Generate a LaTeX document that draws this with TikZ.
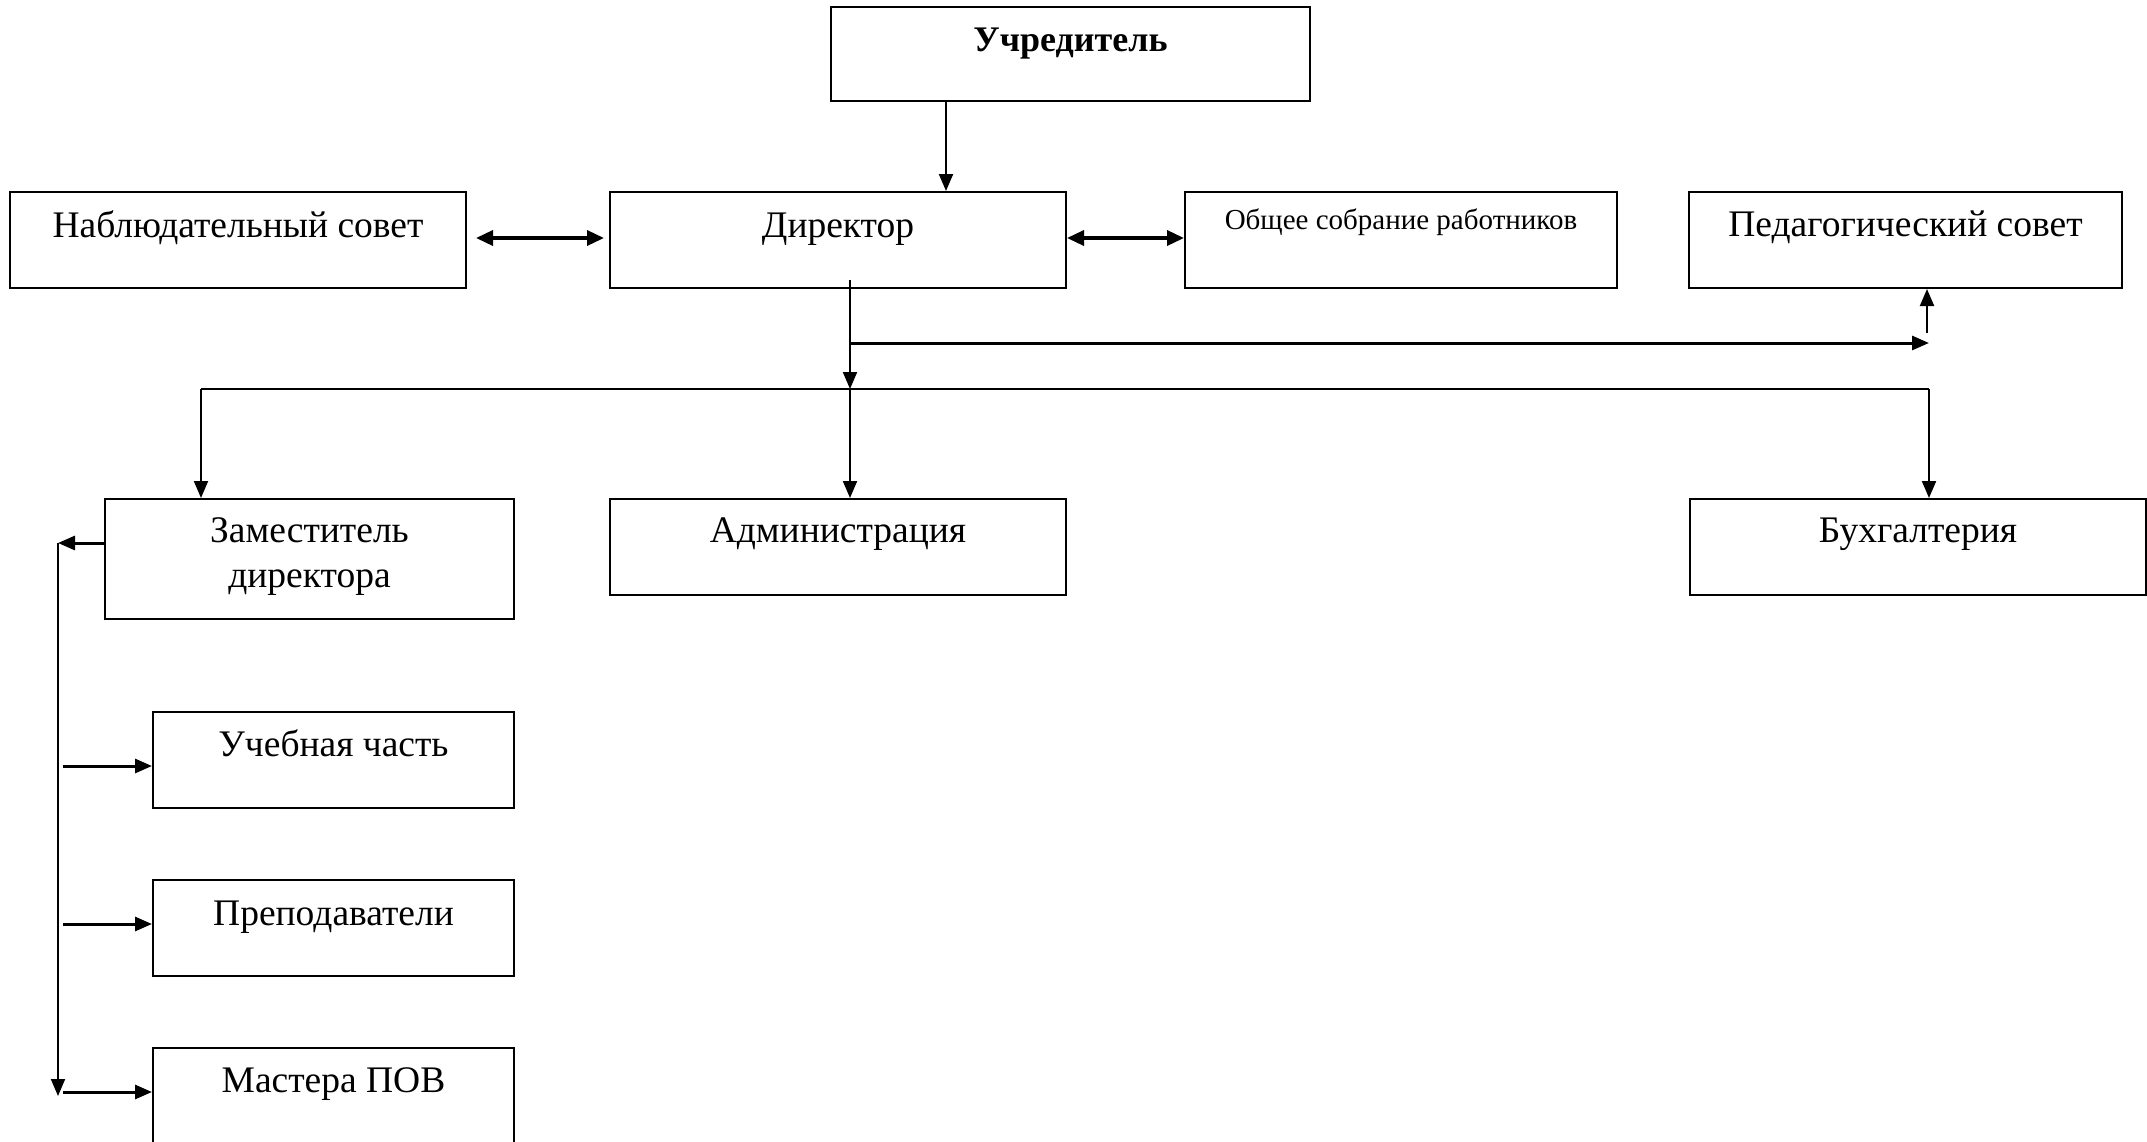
\documentclass[tikz,border=0pt]{standalone}
\usepackage{fontspec}
\setmainfont{Liberation Serif}
\usetikzlibrary{arrows.meta,calc}
\begin{document}
\begin{tikzpicture}[x=1pt,y=-1pt,
 box/.style={draw,line width=2pt,inner sep=0pt,minimum height=96pt},
 lbl/.style={anchor=base,inner sep=0pt,font=\fontsize{37.5}{44}\selectfont},
 ln/.style={line width=2pt},
 arr/.style={line width=2pt,-{Triangle[length=17pt,width=14pt]}},
 thk/.style={line width=3pt,-{Triangle[length=17pt,width=14pt]}},
 dbl/.style={line width=3.5pt,{Triangle[length=17pt,width=15pt]}-{Triangle[length=17pt,width=15pt]}}]
\useasboundingbox[fill=white] (0,0) rectangle (2147,1141);
% boxes
\node[box,minimum width=479pt,minimum height=94pt] (uch) at (1070.5,54) {};
\node[box,minimum width=456pt] (nab) at (238,240) {};
\node[box,minimum width=456pt] (dir) at (838,240) {};
\node[box,minimum width=432pt] (obsh) at (1401,240) {};
\node[box,minimum width=433pt] (ped) at (1905.5,240) {};
\node[box,minimum width=409pt,minimum height=120pt] (zam) at (309.5,559) {};
\node[box,minimum width=456pt] (adm) at (838,547) {};
\node[box,minimum width=456pt] (bux) at (1918,547) {};
\node[box,minimum width=361pt] (ucheb) at (333.5,760) {};
\node[box,minimum width=361pt] (prep) at (333.5,928) {};
\node[box,minimum width=361pt,minimum height=102pt] (mast) at (333.5,1099) {};
% labels
\node[lbl,font=\fontsize{36}{44}\selectfont\bfseries] (tuch) at ([yshift=-45pt]uch.north) {Учредитель};
\node[lbl] (tnab) at ([yshift=-46pt]nab.north) {Наблюдательный совет};
\node[lbl] (tdir) at ([yshift=-46pt]dir.north) {Директор};
\node[lbl,font=\fontsize{29}{34}\selectfont] (tobsh) at ([yshift=-38pt]obsh.north) {Общее собрание работников};
\node[lbl] (tped) at ([yshift=-45pt]ped.north) {Педагогический совет};
\node[lbl] (tzam1) at ([yshift=-44pt]zam.north) {Заместитель};
\node[lbl] (tzam2) at ([yshift=-89pt]zam.north) {директора};
\node[lbl] (tadm) at ([yshift=-44pt]adm.north) {Администрация};
\node[lbl] (tbux) at ([yshift=-44pt]bux.north) {Бухгалтерия};
\node[lbl] (tucheb) at ([yshift=-45pt]ucheb.north) {Учебная часть};
\node[lbl] (tprep) at ([yshift=-46pt]prep.north) {Преподаватели};
\node[lbl] (tmast) at ([yshift=-45pt]mast.north) {Мастера ПОВ};
% helper coordinates
\coordinate (xa) at (946,0);
\coordinate (xd) at (850,0);
\coordinate (bus) at (0,389);
\coordinate (brp) at (0,343);
\coordinate (xp) at (1929,0);
\coordinate (pu) at (1927,333);
\coordinate (xl) at (201,0);
\coordinate (xv) at (58,0);
\coordinate (zy) at (0,543);
\coordinate (vend) at (58,1096);
\coordinate (a1) at (63,766);
\coordinate (a2) at (63,924);
\coordinate (a3) at (63,1092);
% connectors
\draw[arr] (uch.south -| xa) -- (dir.north -| xa);
\draw[dbl,shorten <=9pt,shorten >=5pt] ([yshift=2pt]nab.east) -- ([yshift=2pt]dir.west);
\draw[dbl] ([yshift=2pt]dir.east) -- ([yshift=2pt]obsh.west);
\draw[arr] ([yshift=9pt]dir.south -| xd) -- (bus -| xd);
\draw[arr] (bus -| xd) -- (adm.north -| xd);
\draw[thk] (brp -| xd) -- (brp -| xp);
\draw[arr] (pu) -- (ped.south -| pu);
\draw[ln] (bus -| xl) -- (bus -| xp);
\draw[arr] (bus -| xl) -- (zam.north -| xl);
\draw[arr] (bus -| xp) -- (bux.north -| xp);
\draw[thk] (zam.west |- zy) -- (xv |- zy);
\draw[arr] (xv |- zy) -- (vend);
\draw[thk] (a1) -- (ucheb.west |- a1);
\draw[thk] (a2) -- (prep.west |- a2);
\draw[thk] (a3) -- (mast.west |- a3);
\end{tikzpicture}
\end{document}
